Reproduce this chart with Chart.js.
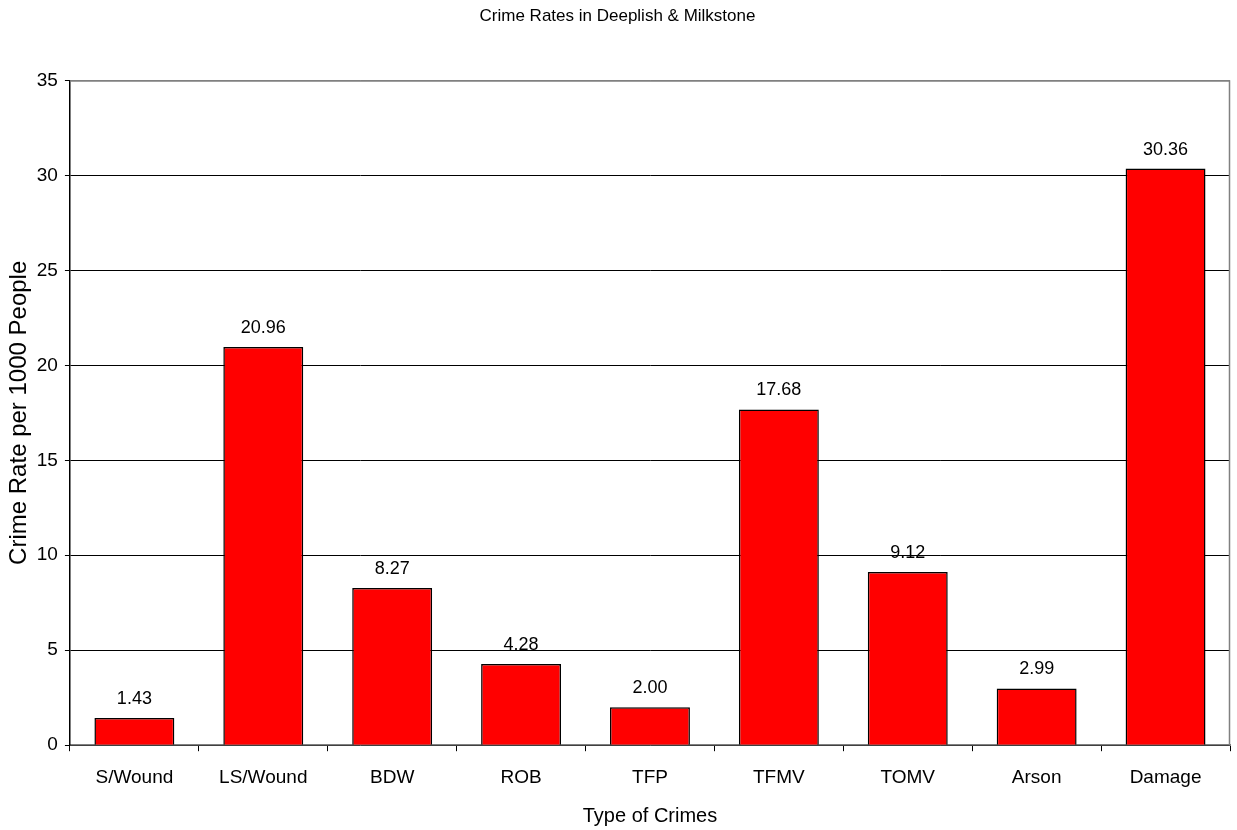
<!DOCTYPE html>
<html><head><meta charset="utf-8">
<script src="https://cdn.jsdelivr.net/npm/chart.js@4/dist/chart.umd.min.js"></script>
<style>html,body{margin:0;padding:0;background:#fff}#wrap{width:1237px;height:830px}</style>
</head><body><div id="wrap"><canvas id="c"></canvas></div>
<script>
const categories = ["S/Wound","LS/Wound","BDW","ROB","TFP","TFMV","TOMV","Arson","Damage"];
const crimeRates = [1.43,20.96,8.27,4.28,2.00,17.68,9.12,2.99,30.36];
const chartTitle = "Crime Rates in Deeplish & Milkstone";
const xTitle = "Type of Crimes";
const yTitle = "Crime Rate per 1000 People";

const FONT = "'Liberation Sans', Arial, sans-serif";

const frame = {
  id: 'frame',
  beforeDatasetsDraw(chart){
    const {ctx, chartArea:a} = chart;
    ctx.save();
    ctx.strokeStyle = '#808080'; ctx.lineWidth = 1.5;
    ctx.beginPath();
    ctx.moveTo(a.left, a.top+0.5); ctx.lineTo(a.right-0.5, a.top+0.5); ctx.lineTo(a.right-0.5, a.bottom);
    ctx.stroke();
    ctx.restore();
  },
  afterDatasetsDraw(chart){
    const {ctx} = chart;
    const meta = chart.getDatasetMeta(0);
    ctx.save();
    ctx.fillStyle = '#000';
    ctx.font = "18px " + FONT;
    ctx.textAlign = 'center'; ctx.textBaseline = 'alphabetic';
    meta.data.forEach((el,i)=>{
      ctx.fillText(crimeRates[i].toFixed(2), el.x, el.y - 14);
    });
    ctx.restore();
  }
};

new Chart(document.getElementById('c'), {
  type: 'bar',
  data: { labels: categories, datasets: [{ data: crimeRates, backgroundColor: '#ff0000', borderColor: '#000', borderWidth: 1.5, barPercentage: 0.62, categoryPercentage: 1 }] },
  options: {
    responsive: true, maintainAspectRatio: false, animation: false,
    layout: { padding: { top: 4, right: 7, left: 5, bottom: 2 } },
    plugins: {
      legend: { display: false }, tooltip: { enabled: false },
      title: { display: true, text: chartTitle, color: '#000', font: { family: FONT, size: 17, weight: 'normal' }, padding: { top: 2, bottom: 54 } }
    },
    scales: {
      x: {
        grid: { offset: true, drawOnChartArea: false, drawTicks: true, tickLength: 6, color: '#000' },
        border: { color: '#808080', width: 1.5 },
        ticks: { color: '#000', font: { family: FONT, size: 19 }, padding: 15 },
        title: { display: true, text: xTitle, color: '#000', font: { family: FONT, size: 20 }, padding: { top: 0, bottom: 0 } }
      },
      y: {
        min: 0, max: 35,
        grid: { color: (c)=> c.tick && c.tick.value === 35 ? '#808080' : '#000', drawTicks: true, tickLength: 5, tickColor: '#000' },
        border: { color: '#000', width: 1.5 },
        ticks: { stepSize: 5, color: '#000', font: { family: FONT, size: 19 }, padding: 7 },
        title: { display: true, text: yTitle, color: '#000', font: { family: FONT, size: 24 }, padding: { top: 0, bottom: -4 } }
      }
    }
  },
  plugins: [frame]
});
</script></body></html>
